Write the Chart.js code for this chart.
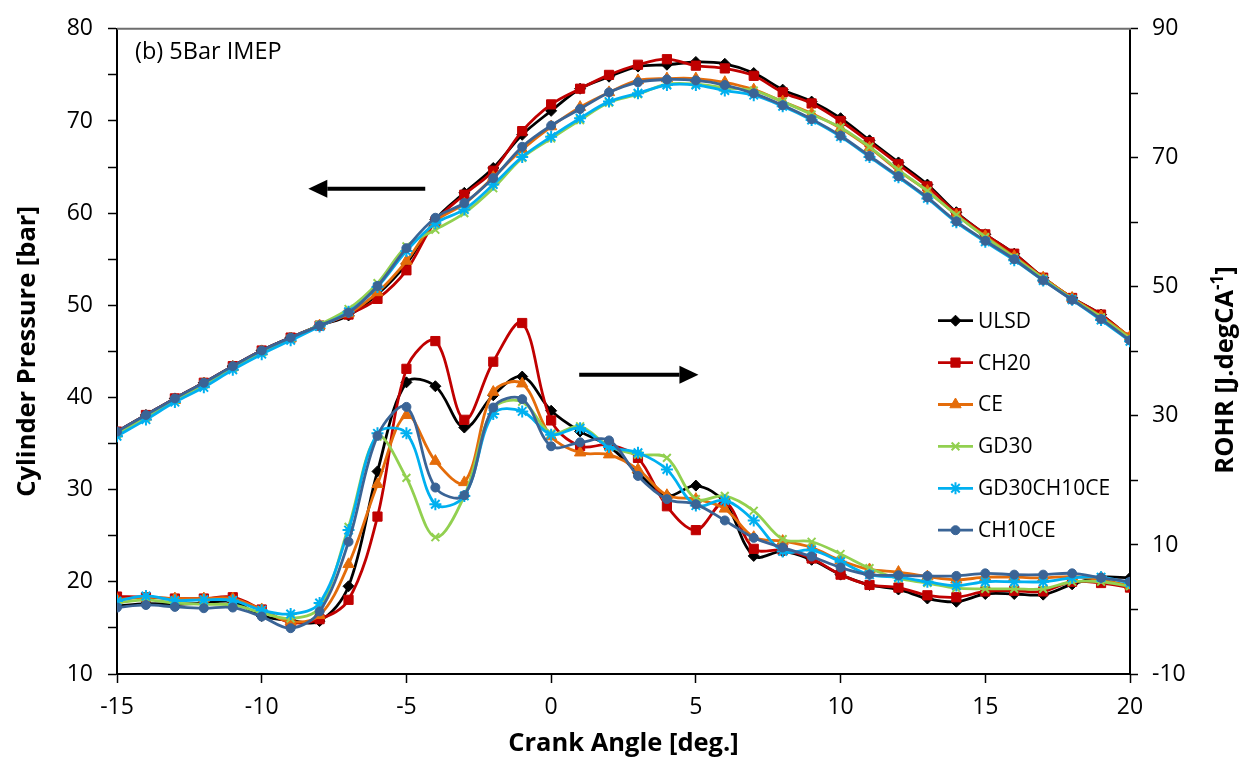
<!DOCTYPE html>
<html>
<head>
<meta charset="utf-8">
<script src="https://cdn.jsdelivr.net/npm/chart.js@4.4.1/dist/chart.umd.min.js"></script>
<style>
html, body { margin: 0; padding: 0; background: #fff; }
#wrap { width: 1242px; height: 762px; }
</style>
</head>
<body>
<div id="wrap"><canvas id="chart" width="1242" height="762"></canvas></div>
<script>
// crank angle [deg.]
const crankAngle = [-15, -14, -13, -12, -11, -10, -9, -8, -7, -6, -5, -4, -3, -2, -1, 0, 1, 2,
    3, 4, 5, 6, 7, 8, 9, 10, 11, 12, 13, 14, 15, 16, 17, 18, 19, 20];

const fuels = ['ULSD', 'CH20', 'CE', 'GD30', 'GD30CH10CE', 'CH10CE'];

// cylinder pressure [bar]
const pressureULSD = [36.3, 38.1, 39.9, 41.6, 43.4, 45.1, 46.5, 47.8, 48.9, 51.2, 54.5, 59.3, 62.2, 64.9, 68.5, 71.1, 73.5, 74.8,
    75.9, 76.1, 76.4, 76.2, 75.2, 73.4, 72.1, 70.3, 67.9, 65.5, 63.1, 60.1, 57.7, 55.6, 53.0, 50.8, 49.0, 46.5];
const pressureCH20 = [36.3, 38.1, 39.9, 41.6, 43.4, 45.1, 46.5, 47.8, 49.0, 50.7, 53.8, 59.1, 62.0, 64.6, 68.9, 71.8, 73.5, 75.0,
    76.1, 76.7, 76.0, 75.7, 74.9, 73.1, 71.9, 70.0, 67.7, 65.3, 62.9, 60.0, 57.7, 55.6, 53.0, 50.8, 49.0, 46.5];
const pressureCE = [36.1, 37.9, 39.7, 41.5, 43.3, 45.0, 46.4, 47.8, 49.1, 51.4, 54.8, 59.1, 61.0, 63.9, 66.9, 69.4, 71.5, 73.1,
    74.4, 74.6, 74.6, 74.2, 73.4, 72.1, 70.8, 69.2, 67.1, 64.6, 62.4, 59.8, 57.5, 55.3, 53.0, 50.8, 48.8, 46.6];
const pressureGD30 = [36.0, 37.8, 39.7, 41.4, 43.2, 44.9, 46.4, 47.9, 49.6, 52.4, 56.4, 58.2, 60.0, 62.7, 66.0, 68.1, 70.1, 72.0,
    72.9, 74.0, 74.0, 73.6, 73.3, 72.1, 70.7, 69.3, 67.2, 64.7, 62.4, 59.8, 57.4, 55.2, 52.9, 50.7, 48.7, 46.4];
const pressureGD30CH10CE = [35.8, 37.6, 39.5, 41.1, 43.0, 44.7, 46.2, 47.7, 49.3, 52.0, 55.9, 58.9, 60.4, 63.1, 66.1, 68.3, 70.3, 72.1,
    73.0, 73.9, 73.9, 73.3, 72.8, 71.6, 70.1, 68.3, 66.1, 63.9, 61.6, 59.0, 56.9, 54.9, 52.7, 50.6, 48.4, 46.1];
const pressureCH10CE = [36.3, 38.1, 39.9, 41.6, 43.4, 45.1, 46.5, 47.8, 49.2, 52.1, 56.2, 59.5, 61.1, 63.8, 67.2, 69.5, 71.3, 73.1,
    74.2, 74.5, 74.4, 73.9, 73.0, 71.7, 70.2, 68.4, 66.2, 64.0, 61.7, 59.1, 57.0, 55.0, 52.7, 50.6, 48.5, 46.2];

// rate of heat release [J.degCA-1]
const rohrULSD = [0.5, 0.9, 0.8, 1.0, 1.2, -1.0, -1.7, -1.8, 3.6, 21.4, 35.2, 34.6, 28.2, 33.2, 36.1, 30.8, 27.6, 25.3,
    21.2, 17.6, 19.2, 16.6, 8.3, 9.0, 7.7, 5.4, 3.8, 3.1, 1.7, 1.2, 2.4, 2.4, 2.3, 3.9, 5.0, 4.9];
const rohrCH20 = [2.0, 1.9, 1.7, 1.7, 1.9, 0.0, -2.0, -1.5, 1.5, 14.4, 37.3, 41.6, 29.4, 38.4, 44.4, 29.3, 25.3, 25.5,
    23.5, 16.0, 12.3, 16.6, 9.4, 9.2, 7.9, 5.4, 3.8, 3.4, 2.2, 1.9, 2.8, 2.9, 2.8, 4.3, 4.1, 3.4];
const rohrCE = [1.5, 1.9, 1.7, 1.7, 1.7, 0.0, -1.9, -0.9, 7.0, 19.4, 30.1, 23.0, 19.7, 33.7, 35.0, 26.8, 24.3, 24.0,
    21.7, 17.7, 17.1, 15.6, 11.2, 10.6, 9.6, 7.6, 6.2, 5.8, 5.1, 4.6, 5.0, 5.0, 4.9, 5.1, 4.6, 3.7];
const rohrGD30 = [1.0, 1.5, 1.0, 0.8, 0.7, -0.5, -1.4, 0.3, 12.8, 26.8, 20.4, 11.2, 17.6, 31.1, 32.2, 27.3, 28.4, 25.3,
    24.0, 23.5, 17.1, 17.6, 15.3, 10.9, 10.5, 8.6, 6.4, 4.8, 4.1, 3.3, 3.2, 3.2, 3.2, 4.3, 4.3, 3.6];
const rohrGD30CH10CE = [1.3, 2.1, 1.4, 1.5, 1.4, -0.1, -0.7, 1.0, 12.3, 27.3, 27.3, 16.3, 17.6, 30.3, 30.7, 27.1, 28.1, 25.2,
    24.3, 21.7, 16.1, 16.9, 13.8, 9.0, 9.2, 7.4, 5.4, 5.0, 4.3, 3.7, 4.3, 4.3, 4.3, 4.9, 5.0, 4.1];
const rohrCH10CE = [0.3, 0.7, 0.4, 0.2, 0.3, -1.1, -2.9, -0.3, 10.5, 26.9, 31.4, 18.9, 17.7, 31.3, 32.6, 25.3, 25.9, 26.2,
    20.7, 17.1, 16.3, 13.8, 11.1, 9.6, 8.2, 6.5, 5.4, 5.3, 5.2, 5.2, 5.6, 5.4, 5.4, 5.6, 4.9, 4.3];

const pressureSeries = [pressureULSD, pressureCH20, pressureCE, pressureGD30, pressureGD30CH10CE, pressureCH10CE];
const rohrSeries = [rohrULSD, rohrCH20, rohrCE, rohrGD30, rohrGD30CH10CE, rohrCH10CE];

const colors = ['#000000', '#C00000', '#E46C0A', '#92D050', '#00B0F0', '#3A6496'];
const pointStyles = ['rectRot', 'rect', 'triangle', 'crossRot', 'star', 'circle'];
const pointSizes = [5.5, 6.5, 6.5, 5.5, 6, 4.5];

Chart.defaults.font.family = "'Open Sans', sans-serif";
Chart.defaults.color = '#000';

function toPoints(arr) {
    return crankAngle.map(function(a, i) { return { x: a, y: arr[i] }; });
}

const datasets = [];
fuels.forEach(function(name, i) {
    const common = {
        label: name,
        borderColor: colors[i],
        backgroundColor: colors[i],
        pointBackgroundColor: colors[i],
        pointBorderColor: colors[i],
        pointStyle: pointStyles[i],
        pointRadius: pointSizes[i],
        pointBorderWidth: pointStyles[i] === 'crossRot' || pointStyles[i] === 'star' ? 2 : 1,
        borderWidth: 2.8,
        tension: 0.35,
        fill: false,
        order: fuels.length - i
    };
    datasets.push(Object.assign({}, common, { data: toPoints(pressureSeries[i]), yAxisID: 'y' }));
    datasets.push(Object.assign({}, common, { data: toPoints(rohrSeries[i]), yAxisID: 'y2' }));
});

// extra drawings: frame top, note, arrows, legend, right axis title
const extras = {
    id: 'extras',
    afterDraw: function(chart) {
        const ctx = chart.ctx;
        const area = chart.chartArea;
        const sx = chart.scales.x, sy = chart.scales.y;
        ctx.save();

        // top border
        ctx.strokeStyle = '#6e6e6e';
        ctx.lineWidth = 2;
        ctx.beginPath();
        ctx.moveTo(area.left, area.top);
        ctx.lineTo(area.right + 1, area.top);
        ctx.stroke();

        // note
        ctx.fillStyle = '#000';
        ctx.font = "23.5px 'Open Sans'";
        ctx.textAlign = 'left';
        ctx.textBaseline = 'alphabetic';
        ctx.fillText('(b) 5Bar IMEP', 135, 59);

        // arrows (data coordinates)
        function arrow(x1, x2, yv) {
            const px1 = sx.getPixelForValue(x1), px2 = sx.getPixelForValue(x2);
            const py = sy.getPixelForValue(yv);
            const dir = Math.sign(px2 - px1);
            const head = 19, half = 9;
            ctx.strokeStyle = '#000';
            ctx.fillStyle = '#000';
            ctx.lineWidth = 4;
            ctx.beginPath();
            ctx.moveTo(px1, py);
            ctx.lineTo(px2 - dir * head, py);
            ctx.stroke();
            ctx.beginPath();
            ctx.moveTo(px2, py);
            ctx.lineTo(px2 - dir * head, py - half);
            ctx.lineTo(px2 - dir * head, py + half);
            ctx.closePath();
            ctx.fill();
        }
        arrow(-4.35, -8.39, 62.66);
        arrow(0.97, 5.09, 42.47);

        // legend
        ctx.font = "21px 'Open Sans'";
        ctx.textBaseline = 'middle';
        fuels.forEach(function(name, i) {
            const y = 320.7 + i * 41.9;
            ctx.strokeStyle = colors[i];
            ctx.fillStyle = colors[i];
            ctx.lineWidth = 2.8;
            ctx.beginPath();
            ctx.moveTo(938, y);
            ctx.lineTo(973, y);
            ctx.stroke();
            ctx.lineWidth = (pointStyles[i] === 'crossRot' || pointStyles[i] === 'star') ? 2 : 1;
            Chart.helpers.drawPoint(ctx, { pointStyle: pointStyles[i], radius: pointSizes[i], rotation: 0, borderWidth: ctx.lineWidth }, 955.5, y);
            ctx.fillStyle = '#000';
            ctx.fillText(name, 978, y + 1);
        });

        // right axis title with superscript
        ctx.translate(1233, 370);
        ctx.rotate(-Math.PI / 2);
        const big = "bold 25.5px 'Open Sans'", small = "bold 17px 'Open Sans'";
        const p1 = 'ROHR [J.degCA', p2 = '-1', p3 = ']';
        ctx.font = big; const w1 = ctx.measureText(p1).width, w3 = ctx.measureText(p3).width;
        ctx.font = small; const w2 = ctx.measureText(p2).width;
        let x0 = -(w1 + w2 + w3) / 2;
        ctx.fillStyle = '#000';
        ctx.textAlign = 'left';
        ctx.textBaseline = 'alphabetic';
        ctx.font = big; ctx.fillText(p1, x0, 0); x0 += w1;
        ctx.font = small; ctx.fillText(p2, x0, -10); x0 += w2;
        ctx.font = big; ctx.fillText(p3, x0, 0);

        ctx.restore();
    }
};

new Chart(document.getElementById('chart'), {
    type: 'line',
    data: { datasets: datasets },
    options: {
        responsive: false,
        animation: false,
        layout: { padding: { top: 23, left: 0, right: 0, bottom: 0 } },
        plugins: { legend: { display: false }, tooltip: { enabled: false } },
        scales: {
            x: {
                type: 'linear',
                min: -15,
                max: 20,
                afterFit: function(scale) { scale.height = 88; },
                ticks: { stepSize: 5, autoSkip: false, maxRotation: 0, padding: 11, font: { size: 23 }, color: '#000' },
                grid: { drawOnChartArea: false, tickLength: 9, tickColor: '#000', tickWidth: 1.5 },
                border: { color: '#000', width: 2 },
                title: { display: true, text: 'Crank Angle [deg.]', font: { size: 25.5, weight: 'bold' }, padding: { top: 0, bottom: 3 }, color: '#000' }
            },
            y: {
                position: 'left',
                min: 10,
                max: 80,
                afterFit: function(scale) { scale.width = 117; },
                ticks: {
                    stepSize: 5, autoSkip: false, padding: 15, font: { size: 23 }, color: '#000',
                    callback: function(v) { return v % 10 === 0 ? v : ''; }
                },
                grid: { drawOnChartArea: false, tickLength: 9, tickColor: '#000', tickWidth: 1.5 },
                border: { color: '#000', width: 2 },
                title: { display: true, text: 'Cylinder Pressure [bar]', font: { size: 25.5, weight: 'bold' }, padding: { top: 12, bottom: 0 }, color: '#000' }
            },
            y2: {
                position: 'right',
                min: -10,
                max: 90,
                afterFit: function(scale) { scale.width = 112; },
                ticks: {
                    stepSize: 10, autoSkip: false, padding: 14, font: { size: 23 }, color: '#000',
                    callback: function(v) { return (v + 10) % 20 === 0 ? v : ''; }
                },
                grid: { drawOnChartArea: false, tickLength: 8, tickColor: '#000', tickWidth: 1.5 },
                border: { color: '#000', width: 2 }
            }
        }
    },
    plugins: [extras]
});
</script>
</body>
</html>
